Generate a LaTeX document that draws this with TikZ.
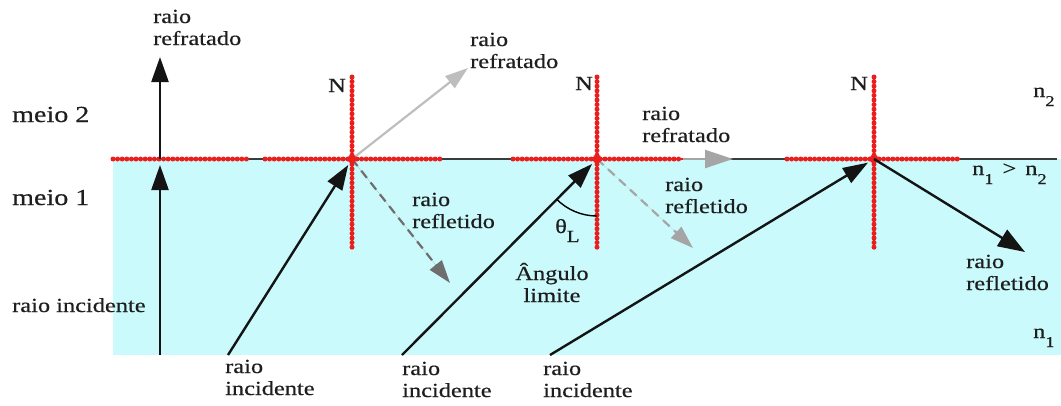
\documentclass[tikz,border=0pt]{standalone}
\usepackage{fontspec}
\setmainfont{Liberation Serif}[FakeStretch=1.22,FakeBold=0.5]
\usetikzlibrary{arrows.meta}
\definecolor{cyanbg}{RGB}{202,250,252}
\definecolor{redn}{RGB}{235,30,30}
\definecolor{txt}{RGB}{30,30,30}
\definecolor{grayA}{RGB}{110,110,110}
\definecolor{grayB}{RGB}{165,165,165}
\definecolor{grayC}{RGB}{190,190,190}
\definecolor{iface}{RGB}{55,60,60}
\newcommand{\lowsub}[1]{\raisebox{-9pt}{\fontsize{15}{15}\selectfont #1}}
\begin{document}
\begin{tikzpicture}[x=1pt,y=-1pt,
  lbl/.style={inner sep=0pt, anchor=base west, align=left, text=txt,
              font=\fontsize{20}{22}\selectfont},
  big/.style={lbl, font=\fontsize{23}{25}\selectfont},
  tip/.style={-{Triangle[length=25pt,width=17pt]}},
  ray/.style={tip, line width=2.4pt, draw=black!92, fill=black!92},
  grayray/.style={-{Triangle[length=23pt,width=15pt]}, line width=2.2pt},
  dashray/.style={grayray, dash pattern=on 9pt off 6pt},
  beads/.style={draw=redn, line width=2.4pt,
     postaction={draw=redn, line width=5pt, line cap=round, dash pattern=on 0pt off 4.6pt}},
]
\useasboundingbox (0,0) rectangle (1061,405);
% media
\fill[cyanbg] (113,159) rectangle (1061,355);
\coordinate (L0) at (113,159);
\coordinate (L1) at (1057,159);
\draw[iface, line width=2.8pt] (L0) -- (L1);

% points of incidence
\coordinate (P1) at (160,159);
\coordinate (P2) at (352,159);
\coordinate (P3) at (597,159);
\coordinate (P4) at (874,159);

% ray starts / ends
\coordinate (I1) at (160,355);
\coordinate (R1) at (160,57);
\coordinate (I2) at (228,355);
\coordinate (R2) at (468,68);
\coordinate (F2) at (450,283);
\coordinate (I3) at (402,355);
\coordinate (R3) at (733,159);
\coordinate (F3) at (693,248);
\coordinate (I4) at (550,355);
\coordinate (F4) at (1025,252);

% normals end points
\coordinate (N2t) at (352,77);  \coordinate (N2b) at (352,248);
\coordinate (N3t) at (597,77);  \coordinate (N3b) at (597,248);
\coordinate (N4t) at (874,77);  \coordinate (N4b) at (874,248);

% gray refracted rays
\draw[grayray, draw=grayC, fill=grayC] (P2) -- (R2);
\draw[grayray, draw=grayB, fill=grayB, line width=2.4pt, -{Triangle[length=28pt,width=18pt]}] (P3) -- (R3);
% dashed reflected rays
\draw[dashray, draw=grayA, fill=grayA] (P2) -- (F2);
\draw[dashray, draw=grayB, fill=grayB] (P3) -- (F3);

% red dotted interface segments and normals
\coordinate (S1a) at (113,159); \coordinate (S1b) at (248,159);
\coordinate (S2a) at (265,159); \coordinate (S2b) at (440,159);
\coordinate (S3a) at (513,159); \coordinate (S3b) at (683,159);
\coordinate (S4a) at (787,159); \coordinate (S4b) at (960,159);
\draw[beads] (S1a) -- (S1b);
\draw[beads] (S2a) -- (S2b);
\draw[beads] (S3a) -- (S3b);
\draw[beads] (S4a) -- (S4b);
\draw[beads] (N2t) -- (N2b);
\draw[beads] (N3t) -- (N3b);
\draw[beads] (N4t) -- (N4b);
\fill[redn] (P2) circle (4.5pt) (P3) circle (4.5pt) (P4) circle (4.5pt);

% black rays
\draw[ray, shorten >=6pt] (I1) -- (P1);
\draw[ray] (P1) -- (R1);
\draw[ray, shorten >=7pt] (I2) -- (P2);
\draw[ray, shorten >=7pt] (I3) -- (P3);
\draw[ray, shorten >=7pt] (I4) -- (P4);
\draw[ray, -{Triangle[length=27pt,width=19pt]}] (P4) -- (F4);

% limit angle arc
\draw[black, line width=1.4pt] (P3) ++(135:57) arc[start angle=135, end angle=90, radius=57];

% labels (base = baseline of last line)
\node[lbl] (tR1) at (153,45) {raio\\refratado};
\node[big] (m2) at (12,122) {meio 2};
\node[big] (m1) at (12,205) {meio 1};
\node[lbl] (tI1) at (12,312) {raio incidente};

\node[lbl] (nN2) at (328,92) {N};
\node[lbl] (nN3) at (575,90) {N};
\node[lbl] (nN4) at (850,90) {N};

\node[lbl] (tR2) at (470,68) {raio\\refratado};
\node[lbl] (tF2) at (412,228) {raio\\refletido};
\node[lbl] (tI2) at (225,395) {raio\\incidente};

\node[lbl] (tR3) at (642,142) {raio\\refratado};
\node[lbl] (tF3) at (665,213) {raio\\refletido};
\node[lbl] (th) at (555,233) {θ\lowsub{\fontsize{17}{17}\selectfont L}};
\node[lbl, align=center, anchor=base] (ang) at (552,302) {Ângulo\\limite};
\node[lbl] (tI3) at (402,397) {raio\\incidente};

\node[lbl] (tI4) at (543,397) {raio\\incidente};
\node[lbl] (tF4) at (966,290) {raio\\refletido};

\node[lbl] (n2) at (1033,97) {n\lowsub{2}};
\node[lbl] (n12) at (972,175) {n\lowsub{1}\hspace{9pt}>\hspace{9pt}n\lowsub{2}};
\node[lbl] (n1) at (1033,338) {n\lowsub{1}};
\end{tikzpicture}
\end{document}
